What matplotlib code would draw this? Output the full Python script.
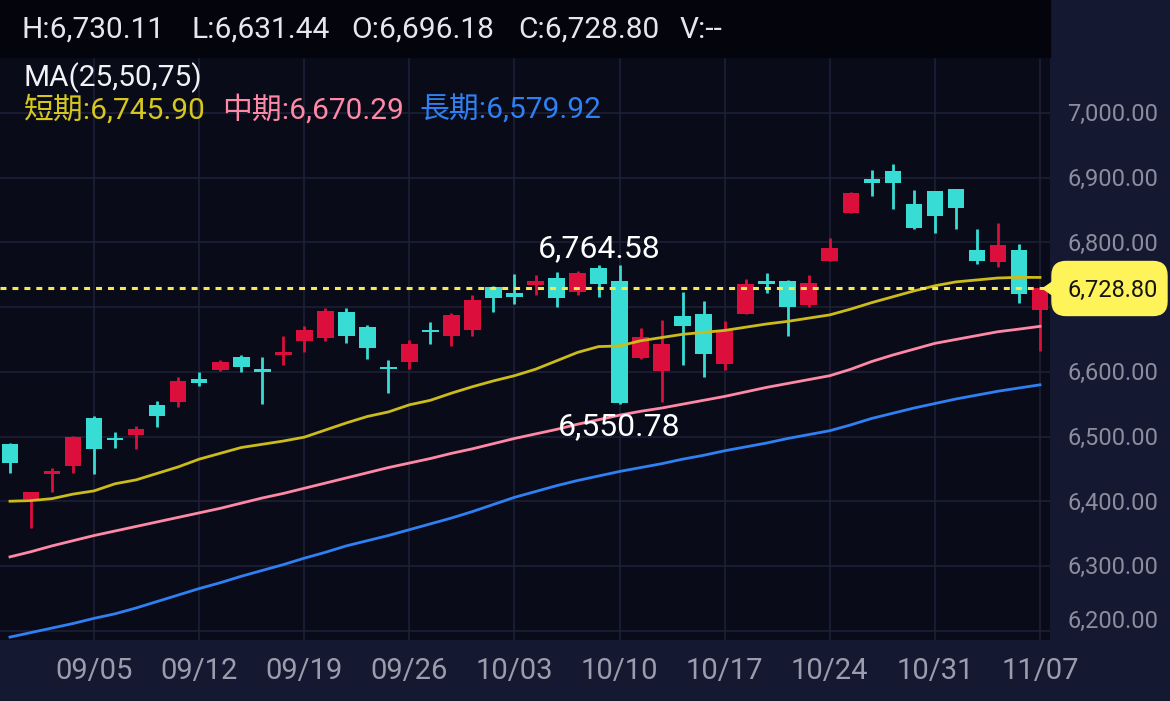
import matplotlib
matplotlib.use("Agg")
import matplotlib.pyplot as plt
from matplotlib.patches import Rectangle, FancyBboxPatch, Polygon
from matplotlib.transforms import IdentityTransform, blended_transform_factory

plt.rcParams['font.family'] = ['Roboto', 'Noto Sans CJK TC', 'DejaVu Sans']
plt.rcParams['lines.scale_dashes'] = False

# daily candles, 08/29 .. 11/07
dates = ['08/29', '09/02', '09/03', '09/04', '09/05', '09/08', '09/09', '09/10', '09/11', '09/12',
         '09/15', '09/16', '09/17', '09/18', '09/19', '09/22', '09/23', '09/24', '09/25', '09/26',
         '09/29', '09/30', '10/01', '10/02', '10/03', '10/06', '10/07', '10/08', '10/09', '10/10',
         '10/13', '10/14', '10/15', '10/16', '10/17', '10/20', '10/21', '10/22', '10/23', '10/24',
         '10/27', '10/28', '10/29', '10/30', '10/31', '11/03', '11/04', '11/05', '11/06', '11/07']
opens = [6488, 6404, 6442, 6455, 6528, 6498, 6502, 6549, 6554, 6589,
         6603, 6623, 6604, 6626, 6647, 6653, 6692, 6669, 6608, 6615,
         6665, 6655, 6664, 6731, 6722, 6734, 6745, 6724, 6760, 6740,
         6622, 6602, 6687, 6689, 6612, 6690, 6740, 6741, 6703, 6772,
         6846, 6898, 6911, 6860, 6879, 6882, 6788, 6770, 6788, 6696.18]
highs = [6490, 6415, 6452, 6501, 6532, 6507, 6517, 6555, 6592, 6599,
         6619, 6626, 6623, 6656, 6671, 6699, 6699, 6672, 6618, 6649,
         6677, 6691, 6719, 6733, 6751, 6750, 6754, 6756, 6765, 6764.58,
         6668, 6680, 6724, 6709, 6678, 6744, 6752, 6742, 6750, 6807,
         6878, 6912, 6921, 6881, 6880, 6883, 6820, 6830, 6797, 6730.11]
lows = [6443, 6358, 6415, 6444, 6442, 6482, 6481, 6515, 6545, 6578,
        6601, 6599, 6550, 6610, 6630, 6648, 6645, 6620, 6568, 6604,
        6643, 6640, 6655, 6692, 6705, 6718, 6700, 6718, 6716, 6550.78,
        6620, 6554, 6611, 6592, 6603, 6689, 6722, 6656, 6700, 6771,
        6845, 6871, 6852, 6821, 6815, 6821, 6767, 6762, 6707, 6631.44]
closes = [6459, 6414, 6446, 6500, 6480, 6494, 6511, 6531, 6586, 6583,
          6615, 6607, 6600, 6631, 6664, 6694, 6656, 6637, 6604, 6643,
          6661, 6688, 6711, 6714, 6716, 6740, 6714, 6753, 6735, 6552,
          6654, 6643, 6671, 6628, 6664, 6735, 6735, 6700, 6738, 6791,
          6876, 6892, 6892, 6823, 6841, 6853, 6772, 6796, 6720, 6728.80]

# moving averages
ma_short = [6400, 6401, 6404, 6411, 6416, 6427, 6433, 6443, 6453, 6465,
            6474, 6483, 6488, 6493, 6499, 6510, 6521, 6531, 6538, 6549,
            6556, 6567, 6577, 6586, 6594, 6604, 6617, 6630, 6639, 6640,
            6648, 6653, 6658, 6661, 6664, 6669, 6674, 6678, 6683, 6688,
            6697, 6707, 6716, 6725, 6733, 6739, 6742, 6745, 6746, 6745.90]
ma_mid = [6314, 6322, 6331, 6339, 6347, 6354, 6361, 6368, 6375, 6382,
          6389, 6397, 6405, 6412, 6420, 6428, 6436, 6444, 6452, 6459,
          6466, 6474, 6481, 6489, 6497, 6504, 6511, 6519, 6526, 6533,
          6539, 6544, 6550, 6556, 6562, 6569, 6576, 6582, 6588, 6594,
          6604, 6616, 6626, 6635, 6644, 6650, 6656, 6662, 6666, 6670.29]
ma_long = [6190, 6197, 6204, 6211, 6219, 6226, 6235, 6245, 6255, 6265,
           6274, 6284, 6293, 6302, 6312, 6321, 6331, 6339, 6347, 6356,
           6365, 6374, 6384, 6395, 6406, 6415, 6424, 6432, 6439, 6446,
           6452, 6458, 6465, 6471, 6478, 6484, 6490, 6497, 6503, 6509,
           6518, 6528, 6536, 6544, 6551, 6558, 6564, 6570, 6575, 6579.92]

tick_dates = ['09/05', '09/12', '09/19', '09/26', '10/03', '10/10', '10/17', '10/24', '10/31', '11/07']
price_ticks = [6200, 6300, 6400, 6500, 6600, 6700, 6800, 6900, 7000]
marked_day = '10/10'

BG = '#090b19'
PANEL = '#141830'
HEADER = '#04040d'
GRID = '#1d2037'
UP = '#dc0e3c'
DOWN = '#37ddd5'
C_SHORT = '#cbbb1b'
C_MID = '#ff88a6'
C_LONG = '#2f80f2'

fig = plt.figure(figsize=(11.7, 7.01), dpi=100, facecolor=PANEL)
ax = fig.add_axes([0, 61 / 701, 1050 / 1170, 583 / 701])
ax.set_facecolor(BG)

x = list(range(len(dates)))
cols = [UP if c >= o else DOWN for o, c in zip(opens, closes)]
bottoms = [min(o, c) for o, c in zip(opens, closes)]
heights = [abs(c - o) for o, c in zip(opens, closes)]

ax.vlines(x, lows, highs, colors=cols, lw=2, zorder=2)
ax.bar(x, heights, bottom=bottoms, width=0.79, color=cols, lw=0, zorder=3)

ax.plot(x, ma_short, color=C_SHORT, lw=2, zorder=4)
ax.plot(x, ma_mid, color=C_MID, lw=2, zorder=4)
ax.plot(x, ma_long, color=C_LONG, lw=2, zorder=4)

last = closes[-1]
ax.axhline(last, color='#f7e84e', lw=2.2, linestyle=(0, (4.3, 4.3)), zorder=5)

ax.set_xlim(-0.476, 49.476)
ax.set_ylim(6185.5, 7086.6)
tick_pos = [dates.index(d) for d in tick_dates]
ax.set_xticks(tick_pos)
ax.set_yticks(price_ticks)
ax.grid(True, color=GRID, lw=1.2)
ax.set_axisbelow(True)
ax.tick_params(length=0, labelleft=False, labelbottom=False)
for s in ax.spines.values():
    s.set_visible(False)

# price axis labels on the right panel (the one under the price tag is hidden)
ytrans = blended_transform_factory(ax.transAxes, ax.transData)
for p in price_ticks:
    if abs(p - last) < 40:
        continue
    dy = 1.6 if p == price_ticks[0] else -6
    ax.annotate(f'{p:,.2f}', xy=(1.06, p), xycoords=ytrans, xytext=(0, dy),
                textcoords='offset points', ha='center', va='baseline',
                fontsize=17, color='#8b8e9e', annotation_clip=False)

# date labels
xtrans = blended_transform_factory(ax.transData, ax.transAxes)
for pos, lab in zip(tick_pos, tick_dates):
    ax.annotate(lab, xy=(pos, 0), xycoords=xtrans, xytext=(0, -28.4),
                textcoords='offset points', ha='center', va='baseline',
                fontsize=21, color='#9b9dad', annotation_clip=False)

# high / low labels of the marked candle
im = dates.index(marked_day)
ax.annotate(f'{highs[im]:,.2f}', xy=(im, highs[im]), xytext=(-15, 6),
            textcoords='offset points', ha='center', va='baseline',
            fontsize=23, color='white', zorder=6)
ax.annotate(f'{lows[im]:,.2f}', xy=(im, lows[im]), xytext=(0, -22.5),
            textcoords='offset points', ha='center', va='baseline',
            fontsize=23, color='white', zorder=6)

# header band
fig.add_artist(Rectangle((0, 644 / 701), 1050 / 1170, 57 / 701,
                         transform=fig.transFigure, color=HEADER, zorder=2))
header = [('H', highs[-1], 22), ('L', lows[-1], 191), ('O', opens[-1], 351), ('C', closes[-1], 518)]
for name, val, px in header:
    fig.text(px / 1170, 663 / 701, f'{name}:{val:,.2f}', fontsize=21.5,
             color='#e6e6ee', va='baseline', zorder=3)
fig.text(680 / 1170, 663 / 701, 'V:--', fontsize=21.5, color='#e6e6ee', va='baseline', zorder=3)

# MA legend
fig.text(24 / 1170, 615 / 701, 'MA(25,50,75)', fontsize=21.5, color='#f2f2f6', va='baseline')
legend = [('短期', ma_short[-1], '#d6c71f', 24), ('中期', ma_mid[-1], C_MID, 222), ('長期', ma_long[-1], C_LONG, 419)]
for name, val, col, px in legend:
    fig.text(px / 1170, 582 / 701, f'{name}:{val:,.2f}', fontsize=21.5, color=col, va='baseline')

# last price tag
fig.canvas.draw()
yp = ax.transData.transform((0, last))[1]
tag = '#fff35a'
fig.add_artist(Polygon([(1043, yp), (1056, yp + 9), (1056, yp - 9)], closed=True,
                       transform=IdentityTransform(), color=tag, zorder=5))
fig.add_artist(FancyBboxPatch((1052, yp - 27), 115, 54, boxstyle='round,pad=0,rounding_size=14',
                              transform=IdentityTransform(), color=tag, zorder=5))
fig.text(1113 / 1170, (yp - 8.4) / 701, f'{last:,.2f}', fontsize=17, color='#141414',
         ha='center', va='baseline', zorder=6)

fig.savefig('out.png', dpi=100, facecolor=fig.get_facecolor())
